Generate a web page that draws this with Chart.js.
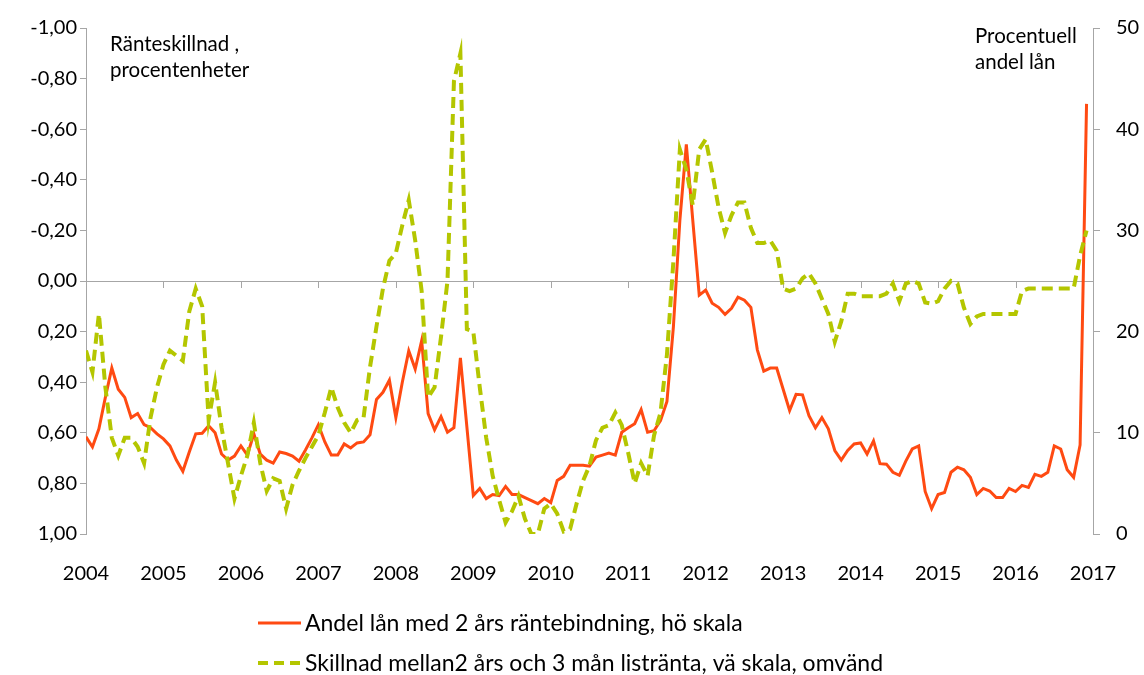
<!DOCTYPE html>
<html lang="sv">
<head>
  <meta charset="UTF-8" />
  <title>Andel lån med 2 års räntebindning</title>
  <script src="https://cdn.jsdelivr.net/npm/chart.js"></script>
  <style>
    html, body {
      margin: 0;
      padding: 0;
      background: #fff;
    }

    #wrap {
      width: 1144px;
      height: 675px;
    }
  </style>
</head>
<body>
  <div id="wrap">
    <canvas id="chart" width="1144" height="675"></canvas>
  </div>

  <script>
    // Monthly data, Jan 2004 - Dec 2016
    const startYear = 2004;

    const yearTicks = [2004, 2005, 2006, 2007, 2008, 2009, 2010, 2011, 2012, 2013, 2014, 2015, 2016, 2017];
    const leftTicks = [-1, -0.8, -0.6, -0.4, -0.2, 0, 0.2, 0.4, 0.6, 0.8, 1];
    const rightTicks = [0, 10, 20, 30, 40, 50];

    // Andel lån med 2 års räntebindning (%), höger skala
    const andelLan = [
      9.6, 8.6, 10.4, 13.5, 16.4, 14.3, 13.5, 11.5, 11.9, 10.8, 10.5, 9.9,
      9.4, 8.7, 7.3, 6.2, 8.1, 9.9, 9.95, 10.7, 10.0, 7.9, 7.3, 7.7,
      8.7, 7.8, 9.9, 7.9, 7.3, 7.0, 8.1, 7.95, 7.7, 7.2, 8.3, 9.5,
      10.8, 9.1, 7.8, 7.8, 8.9, 8.5, 9.0, 9.1, 9.8, 13.3, 14.0, 15.2,
      11.5, 15.0, 18.1, 16.3, 19.1, 11.9, 10.3, 11.6, 10.05, 10.5, 17.4, 10.6,
      3.8, 4.5, 3.5, 3.9, 3.8, 4.7, 3.9, 3.9, 3.6, 3.3, 3.0, 3.5,
      3.1, 5.3, 5.7, 6.8, 6.8, 6.8, 6.7, 7.6, 7.8, 8.0, 7.8, 10.05,
      10.5, 10.9, 12.3, 10.05, 10.2, 11.2, 13.1, 20.5, 31.0, 38.5, 31.0, 23.6,
      24.1, 22.8, 22.4, 21.7, 22.3, 23.4, 23.1, 22.4, 18.2, 16.1, 16.4, 16.4,
      14.3, 12.2, 13.8, 13.75, 11.7, 10.5, 11.5, 10.4, 8.25, 7.3, 8.25, 8.9,
      9.0, 7.9, 9.2, 6.95, 6.9, 6.1, 5.8, 7.2, 8.4, 8.7, 4.2, 2.5,
      3.9, 4.1, 6.1, 6.6, 6.35, 5.6, 3.9, 4.5, 4.25, 3.6, 3.6, 4.5,
      4.2, 4.8, 4.6, 5.9, 5.7, 6.1, 8.7, 8.4, 6.35, 5.6, 8.8, 42.5
    ];

    // Skillnad mellan 2 års och 3 mån listränta (procentenheter), vänster skala, omvänd
    const skillnad = [
      0.275, 0.36, 0.13, 0.42, 0.62, 0.69, 0.62, 0.62, 0.655, 0.72, 0.54, 0.42,
      0.33, 0.275, 0.295, 0.315, 0.12, 0.03, 0.10, 0.55, 0.40, 0.58, 0.72, 0.86,
      0.77, 0.69, 0.56, 0.72, 0.83, 0.78, 0.79, 0.90, 0.805, 0.75, 0.70, 0.655,
      0.61, 0.52, 0.42, 0.50, 0.56, 0.60, 0.55, 0.54, 0.34, 0.18, 0.03, -0.08,
      -0.11, -0.22, -0.32, -0.16, 0.04, 0.46, 0.42, 0.22, 0.0, -0.79, -0.90, 0.19,
      0.20, 0.42, 0.62, 0.77, 0.865, 0.955, 0.91, 0.85, 0.94, 1.0, 1.0, 0.90,
      0.88, 0.92, 0.99, 0.98, 0.88, 0.79, 0.73, 0.63, 0.58, 0.57, 0.52, 0.57,
      0.68, 0.80, 0.72, 0.77, 0.61, 0.52, 0.29, -0.08, -0.52, -0.44, -0.30, -0.52,
      -0.56, -0.43, -0.29, -0.19, -0.26, -0.31, -0.31, -0.21, -0.15, -0.15, -0.16, -0.12,
      0.03, 0.04, 0.03, -0.01, -0.03, 0.01, 0.07, 0.13, 0.24, 0.16, 0.05, 0.05,
      0.06, 0.06, 0.06, 0.06, 0.05, 0.01, 0.08, 0.01, 0.0, 0.01, 0.085, 0.09,
      0.08, 0.03, 0.0, 0.01, 0.105, 0.17, 0.14, 0.13, 0.13, 0.13, 0.13, 0.13,
      0.13, 0.04, 0.03, 0.03, 0.03, 0.03, 0.03, 0.03, 0.03, 0.03, -0.10, -0.20
    ];

    const months = andelLan.map((_, i) => startYear + i / 12);

    const RED = '#FF4A12';
    const GREEN = '#B4C600';
    const AXIS = '#A6A6A6';
    const FONT = 'Lato, "Open Sans", sans-serif';

    const legendItems = [
      { text: 'Andel lån med 2 års räntebindning, hö skala', color: RED, width: 3, dash: [] },
      { text: 'Skillnad mellan2 års och 3 mån listränta, vä skala, omvänd', color: GREEN, width: 4, dash: [10, 6] }
    ];

    // zero line ticks, axis notes and legend
    const extras = {
      id: 'extras',
      beforeDatasetsDraw(chart) {
        const { ctx, scales } = chart;
        const y0 = scales.y.getPixelForValue(0);
        ctx.save();
        ctx.strokeStyle = AXIS;
        ctx.lineWidth = 1;
        ctx.beginPath();
        yearTicks.forEach(yr => {
          const x = Math.round(scales.x.getPixelForValue(yr)) + 0.5;
          ctx.moveTo(x, y0);
          ctx.lineTo(x, y0 + 7);
        });
        ctx.stroke();
        ctx.restore();
      },
      afterDraw(chart) {
        const { ctx } = chart;
        ctx.save();
        ctx.fillStyle = '#000';
        ctx.font = '20.5px ' + FONT;
        ctx.textBaseline = 'middle';
        ctx.fillText('Ränteskillnad ,', 110, 44);
        ctx.fillText('procentenheter', 110, 70);
        ctx.fillText('Procentuell', 975, 36);
        ctx.fillText('andel lån', 975, 62);

        ctx.font = '23px ' + FONT;
        legendItems.forEach((item, i) => {
          const y = 623 + i * 40;
          ctx.strokeStyle = item.color;
          ctx.lineWidth = item.width;
          ctx.setLineDash(item.dash);
          ctx.beginPath();
          ctx.moveTo(258, y);
          ctx.lineTo(301, y);
          ctx.stroke();
          ctx.setLineDash([]);
          ctx.fillStyle = '#000';
          ctx.fillText(item.text, 305, y + 1);
        });
        ctx.restore();
      }
    };

    const ctx = document.getElementById('chart').getContext('2d');

    new Chart(ctx, {
      type: 'line',
      data: {
        datasets: [
          {
            label: legendItems[1].text,
            data: months.map((m, i) => ({ x: m, y: skillnad[i] })),
            yAxisID: 'y',
            borderColor: GREEN,
            borderWidth: 4,
            borderDash: [11, 6],
            pointRadius: 0,
            tension: 0,
            fill: false
          },
          {
            label: legendItems[0].text,
            data: months.map((m, i) => ({ x: m, y: andelLan[i] })),
            yAxisID: 'y2',
            borderColor: RED,
            borderWidth: 3,
            pointRadius: 0,
            tension: 0,
            fill: false
          }
        ]
      },
      options: {
        responsive: false,
        animation: false,
        layout: {
          padding: { top: 25, left: 0, right: 0, bottom: 0 }
        },
        plugins: {
          legend: { display: false },
          tooltip: { enabled: false }
        },
        scales: {
          x: {
            type: 'linear',
            min: 2004,
            max: 2017,
            afterBuildTicks: s => { s.ticks = yearTicks.map(v => ({ value: v })); },
            afterFit: s => { s.height = 141; },
            grid: { display: false },
            border: { display: false },
            ticks: {
              color: '#000',
              font: { family: FONT, size: 20 },
              padding: 20,
              maxRotation: 0,
              callback: v => String(v)
            }
          },
          y: {
            position: 'left',
            reverse: true,
            min: -1,
            max: 1,
            afterBuildTicks: s => { s.ticks = leftTicks.map(v => ({ value: v })); },
            afterFit: s => { s.width = 86; },
            border: { display: true, color: AXIS, width: 1 },
            grid: {
              color: c => (c.tick && Math.abs(c.tick.value) < 1e-9 ? AXIS : 'rgba(0,0,0,0)'),
              tickColor: AXIS,
              tickLength: 6,
              lineWidth: 1
            },
            ticks: {
              color: '#000',
              font: { family: FONT, size: 20 },
              padding: 3,
              callback: v => v.toFixed(2).replace('.', ',')
            }
          },
          y2: {
            position: 'right',
            min: 0,
            max: 50,
            afterBuildTicks: s => { s.ticks = rightTicks.map(v => ({ value: v })); },
            afterFit: s => { s.width = 51; },
            border: { display: true, color: AXIS, width: 1 },
            grid: {
              drawOnChartArea: false,
              tickColor: AXIS,
              tickLength: 7
            },
            ticks: {
              color: '#000',
              font: { family: FONT, size: 20 },
              padding: 16,
              callback: v => String(v)
            }
          }
        }
      },
      plugins: [extras]
    });
  </script>
</body>
</html>
